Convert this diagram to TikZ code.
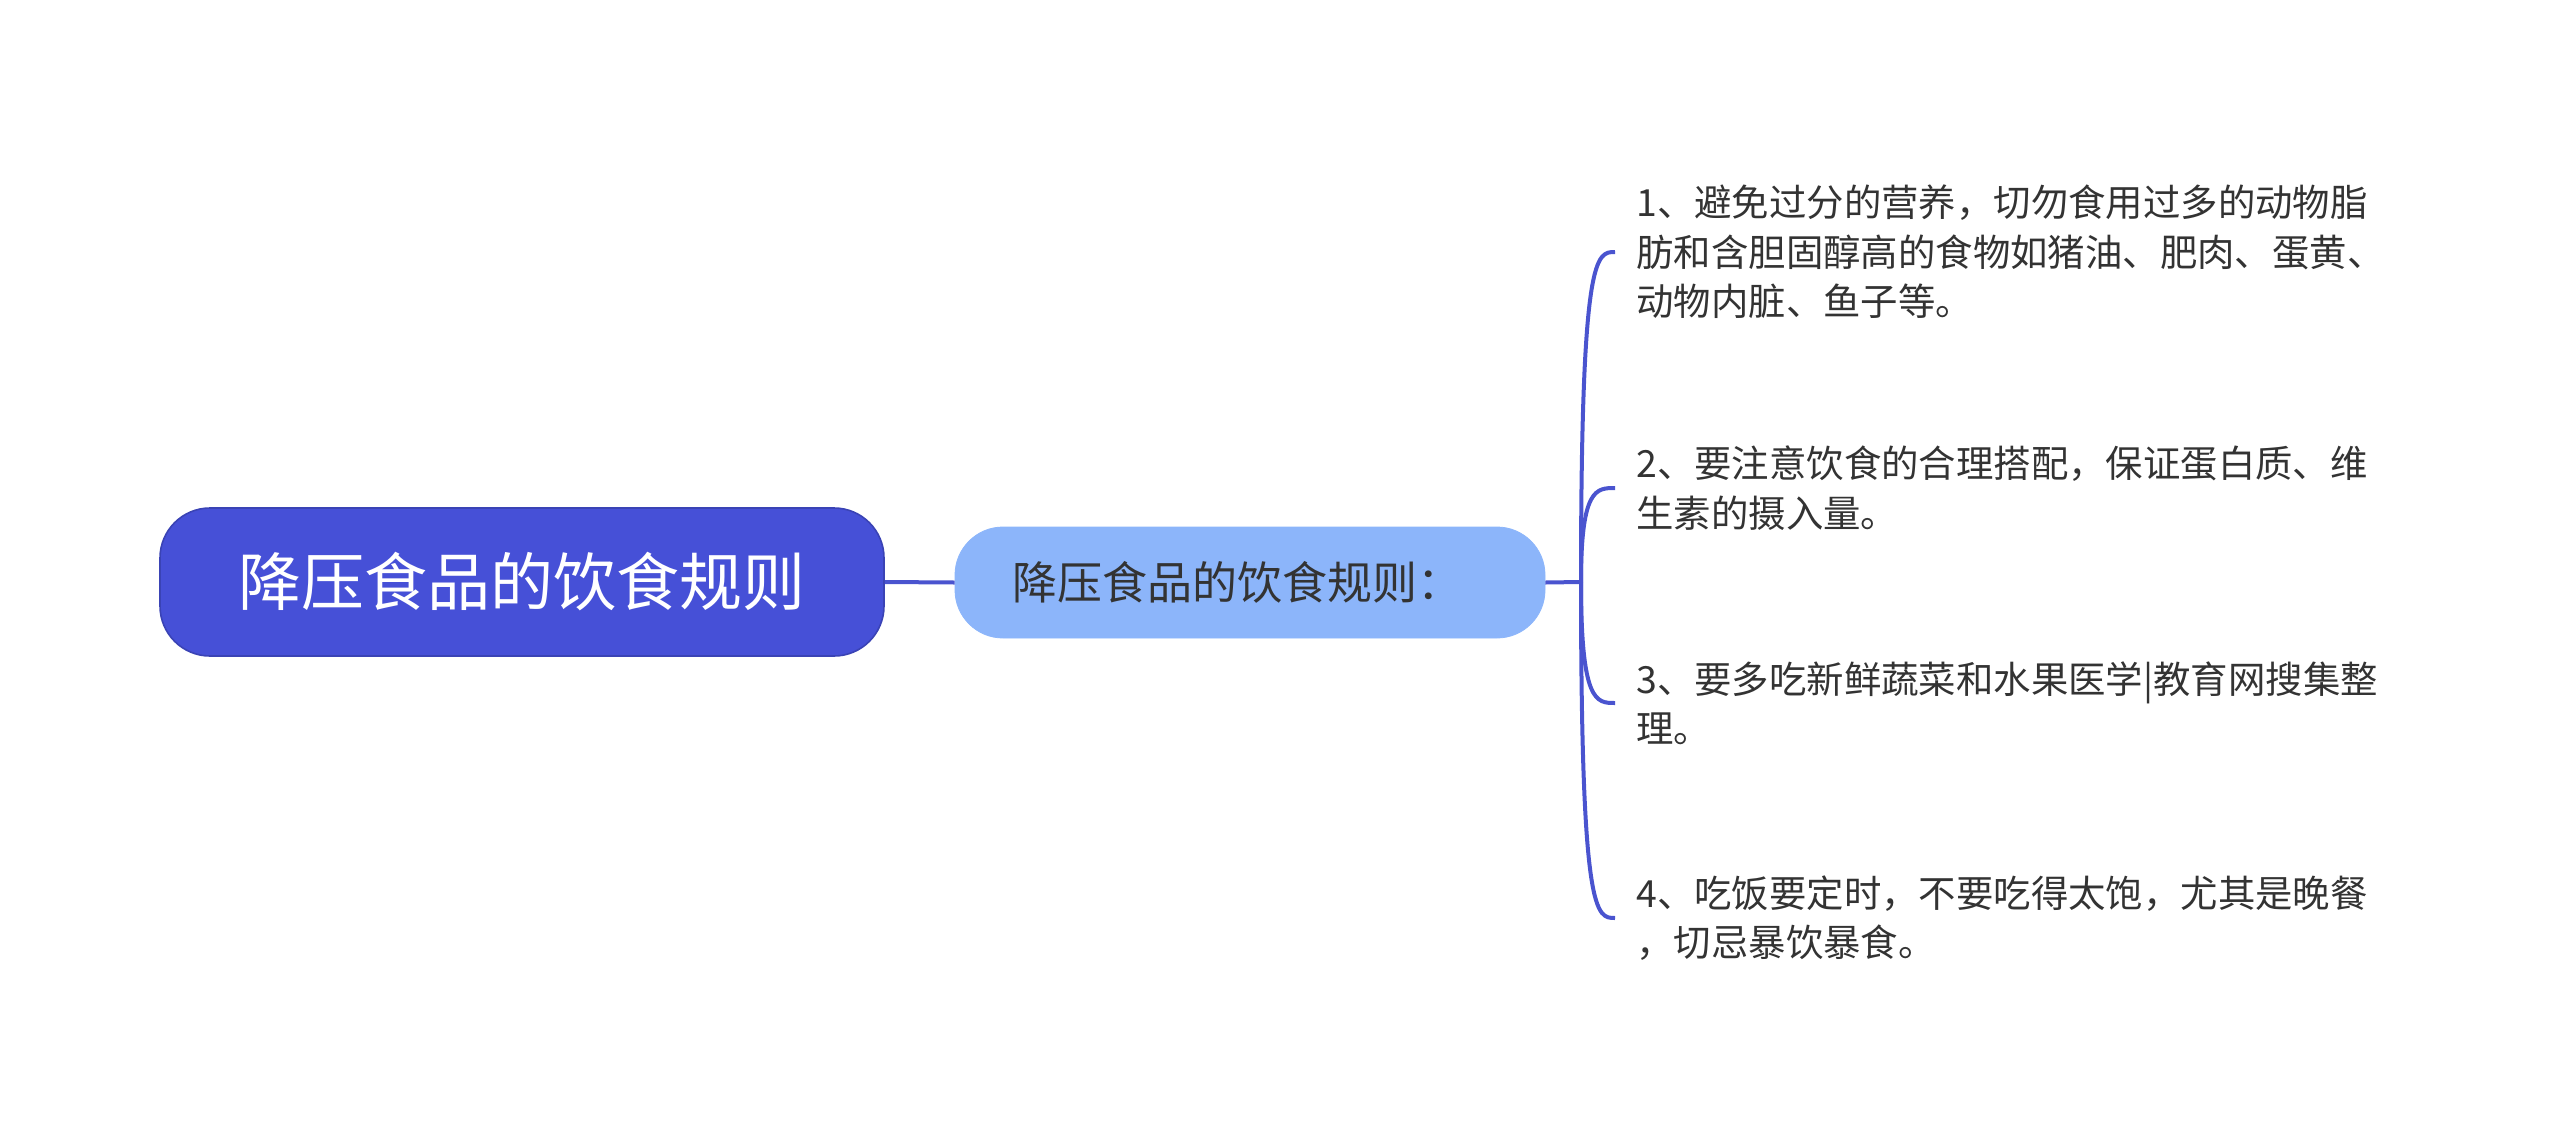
\documentclass[tikz,border=0pt]{standalone}
\usepackage{fontspec}
\setmainfont{Noto Sans CJK SC}
\usetikzlibrary{calc}
\definecolor{rootblue}{HTML}{4650D7}
\definecolor{rootedge}{HTML}{3A43B5}
\definecolor{subblue}{HTML}{8CB5FA}
\definecolor{linkblue}{HTML}{4A54CF}
\definecolor{txt}{HTML}{333333}
\begin{document}
\begin{tikzpicture}[x=0.5pt,y=-0.5pt,
 rootbox/.style={draw=rootedge, line width=0.8pt, fill=rootblue, rounded corners=25pt, minimum width=362pt, minimum height=74pt, text=white, font=\fontsize{31.5pt}{38pt}\selectfont, inner sep=0pt},
 subbox/.style={draw=subblue, fill=subblue, rounded corners=24pt, minimum width=295pt, minimum height=55.5pt, text=txt, font=\fontsize{22.5pt}{27pt}\selectfont, inner sep=0pt},
 leaf/.style={anchor=west, align=left, text=txt, font=\fontsize{18.7pt}{24.7pt}\selectfont, inner xsep=10.5pt, inner ysep=0pt},
 link/.style={draw=linkblue, line width=2pt}]
\useasboundingbox (0,0) rectangle (2560,1141);
\node[rootbox] (root) at (522,582) {降压食品的饮食规则};
\node[subbox] (sub) at (1250,582.5) {降压食品的饮食规则：\hspace*{13pt}};
\coordinate (fork) at (1581,582);
\node[leaf] (i1) at (1615,252) {1、避免过分的营养，切勿食用过多的动物脂\\肪和含胆固醇高的食物如猪油、肥肉、蛋黄、\\动物内脏、鱼子等。};
\node[leaf] (i2) at (1615,488) {2、要注意饮食的合理搭配，保证蛋白质、维\\生素的摄入量。};
\node[leaf] (i3) at (1615,703) {3、要多吃新鲜蔬菜和水果医学|教育网搜集整\\理。};
\node[leaf] (i4) at (1615,918) {4、吃饭要定时，不要吃得太饱，尤其是晚餐\\，切忌暴饮暴食。};
\draw[link] (root.east) -- (sub.west);
\draw[link] (sub.east) -- (fork);
\foreach \n in {i1,i2,i3,i4}
  \draw[link] (fork) .. controls (fork |- \n.west) and ($(fork |- \n.west)!0.45!(\n.west)$) .. (\n.west);
\end{tikzpicture}
\end{document}
